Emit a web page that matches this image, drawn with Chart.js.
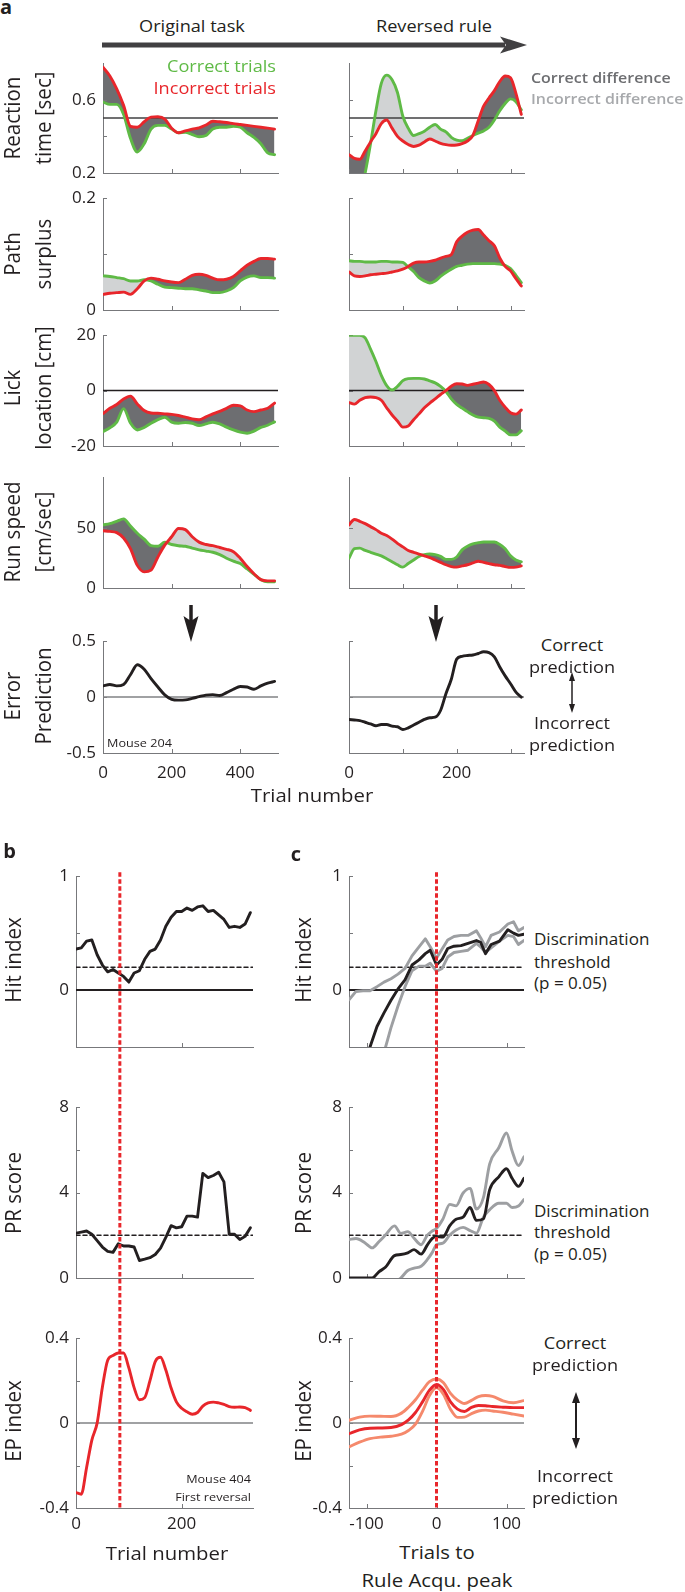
<!DOCTYPE html>
<html><head><meta charset="utf-8">
<script src="https://cdn.jsdelivr.net/npm/chart.js@4.4.1/dist/chart.umd.min.js"></script>
<style>
html,body{margin:0;padding:0;background:#fff}
body{width:685px;height:1592px;position:relative;overflow:hidden;color:#231f20;font-family:'Open Sans',sans-serif}
canvas{position:absolute}
.t{position:absolute;white-space:nowrap;line-height:1;font-family:'Open Sans',sans-serif}
#deco{position:absolute;left:0;top:0;z-index:3}
</style></head><body>
<svg id="deco" width="685" height="1592">
  <line x1="102" y1="45" x2="505" y2="45" stroke="#414042" stroke-width="5"/>
  <polygon points="500,36.5 527,45 500,53.5 506,45" fill="#414042"/>
  <line x1="191" y1="605" x2="191" y2="626" stroke="#231f20" stroke-width="3.5"/>
  <polygon points="183.5,616 191,642 198.5,616 191,621" fill="#231f20"/>
  <line x1="436" y1="605" x2="436" y2="626" stroke="#231f20" stroke-width="3.5"/>
  <polygon points="428.5,616 436,642 443.5,616 436,621" fill="#231f20"/>
  <line x1="572" y1="678" x2="572" y2="707" stroke="#231f20" stroke-width="1.5"/>
  <polygon points="569,681 572,672 575,681" fill="#231f20"/>
  <polygon points="569,704 572,713 575,704" fill="#231f20"/>
  <line x1="576" y1="1400" x2="576" y2="1441" stroke="#231f20" stroke-width="2"/>
  <polygon points="572,1403 576,1392 580,1403" fill="#231f20"/>
  <polygon points="572,1438 576,1449 580,1438" fill="#231f20"/>
</svg>
<script>
// ---------------- DATA ----------------
// Panel a, original task (trial number)
const trialsOrig = [0,20,40,60,80,100,120,140,160,180,200,220,240,260,280,300,320,340,360,380,400,420,440,460,480,500];
const rtCorrectOrig   = [0.588,0.575,0.575,0.52,0.39,0.315,0.36,0.44,0.46,0.46,0.44,0.42,0.422,0.41,0.398,0.405,0.44,0.45,0.45,0.455,0.45,0.42,0.395,0.36,0.31,0.30];
const rtIncorrectOrig = [0.778,0.73,0.66,0.57,0.455,0.45,0.48,0.505,0.507,0.495,0.445,0.42,0.43,0.44,0.447,0.462,0.483,0.48,0.476,0.47,0.465,0.46,0.455,0.45,0.445,0.44];
const pathCorrectOrig   = [0.061,0.060,0.058,0.056,0.052,0.052,0.054,0.052,0.046,0.041,0.040,0.039,0.038,0.038,0.036,0.034,0.031,0.031,0.034,0.040,0.052,0.059,0.061,0.058,0.058,0.057];
const pathIncorrectOrig = [0.028,0.030,0.031,0.032,0.028,0.038,0.052,0.057,0.055,0.052,0.050,0.049,0.055,0.062,0.064,0.062,0.057,0.054,0.055,0.060,0.070,0.080,0.087,0.092,0.092,0.091];
const lickCorrectOrig   = [-14.8,-13.4,-11.4,-6.5,-11.7,-14.2,-13.3,-11.8,-10.5,-9.6,-11.4,-11.8,-11.5,-11.8,-12.6,-12.0,-11.4,-12.0,-13.2,-14.2,-15.0,-15.4,-14.6,-13.3,-12.5,-11.3];
const lickIncorrectOrig = [-8.3,-6.4,-5.0,-3.0,-2.0,-4.8,-7.2,-8.1,-8.2,-8.4,-8.6,-9.0,-9.6,-10.2,-10.5,-9.5,-8.4,-7.5,-6.4,-5.3,-5.5,-7.0,-7.6,-7.0,-6.4,-4.5];
const speedCorrectOrig   = [53,54,56,58,52,46,41,35.5,35,38.5,36.5,35.5,35,33.5,32,31,30,28,25,22.5,20.5,16,11.5,7,5.3,5.3];
const speedIncorrectOrig = [48,47.5,46.5,42,33,19,13.5,15,26,36,43,50,49,43,38.5,36.5,35.5,34,32.5,30.5,25,18,12,7,6,6];
const epOrig = [0.10,0.113,0.10,0.113,0.20,0.29,0.25,0.165,0.09,0.02,-0.02,-0.027,-0.025,-0.012,0.004,0.018,0.022,0.014,0.04,0.07,0.095,0.09,0.07,0.10,0.125,0.14];

// Panel a, reversed rule
const trialsRev = [0,10,20,30,40,50,60,70,80,90,100,110,120,130,140,150,160,170,180,190,200,210,220,230,240,250,260,270,280,290,300,310,320];
const rtCorrectRev   = [0.0,0.0,0.07,0.2,0.36,0.54,0.69,0.735,0.71,0.64,0.51,0.445,0.405,0.415,0.428,0.45,0.465,0.44,0.425,0.395,0.38,0.376,0.39,0.405,0.418,0.43,0.45,0.49,0.54,0.58,0.605,0.59,0.545];
const rtIncorrectRev = [0.30,0.28,0.275,0.32,0.37,0.415,0.47,0.49,0.445,0.40,0.375,0.356,0.345,0.352,0.37,0.386,0.375,0.362,0.355,0.352,0.353,0.36,0.375,0.405,0.485,0.565,0.61,0.65,0.70,0.73,0.72,0.635,0.52];
const pathCorrectRev   = [0.088,0.087,0.087,0.086,0.086,0.086,0.087,0.087,0.086,0.086,0.085,0.077,0.069,0.058,0.052,0.048,0.052,0.060,0.067,0.073,0.078,0.080,0.082,0.083,0.083,0.083,0.083,0.083,0.082,0.080,0.074,0.062,0.049];
const pathIncorrectRev = [0.068,0.061,0.060,0.061,0.063,0.064,0.065,0.066,0.068,0.070,0.073,0.078,0.084,0.086,0.086,0.087,0.089,0.093,0.096,0.099,0.122,0.132,0.139,0.143,0.144,0.134,0.124,0.115,0.093,0.078,0.070,0.056,0.043];
const lickCorrectRev   = [20,20,20,19,15,10.5,5.5,1.8,0.2,1.5,3.6,4.3,4.4,4.4,4.2,3.5,2.8,1.5,-0.3,-3,-5,-6.3,-7.6,-8.8,-9.6,-9.8,-10,-11,-13.2,-14.6,-16,-16,-14.5];
const lickIncorrectRev = [-4.3,-4.9,-3.5,-2.5,-2.3,-2.5,-3.5,-6.2,-8.8,-11,-13.2,-12.8,-10.5,-8.4,-6.2,-4.5,-3,-1.4,0,1.6,2.5,2.4,1.9,2.3,2.7,3.1,2.2,0,-3.5,-6,-8,-8.5,-7];
const speedCorrectRev   = [25,33,33.5,31.5,30,28.5,27,24.5,22,19.5,17.5,20.5,23.5,26.5,28,28.5,28,26.5,24,24,26,32,35,37,38,38.6,38.6,38.6,36.5,33,27,23.5,22];
const speedIncorrectRev = [53,57.5,56,54,51.5,49,46,44,41,37.5,34.5,31.5,30,28.5,27,25.5,23.5,21.5,19.5,18,17.5,18.5,19.5,21,22.5,21.5,20.5,19.5,19,18,17.3,17.5,18.5];
const epRev = [-0.2,-0.205,-0.21,-0.225,-0.24,-0.256,-0.245,-0.245,-0.26,-0.265,-0.29,-0.275,-0.25,-0.225,-0.2,-0.185,-0.18,-0.12,0.03,0.16,0.34,0.365,0.372,0.377,0.39,0.405,0.398,0.36,0.27,0.19,0.12,0.045,0.0];

// Panel b (Mouse 404, first reversal)
const trialsB = [0,10,20,30,40,50,60,70,80,90,100,110,120,130,140,150,160,170,180,190,200,210,220,230,240,250,260,270,280,290,300,310,320,330];
const hitB = [0.36,0.37,0.43,0.44,0.31,0.22,0.16,0.18,0.15,0.12,0.07,0.15,0.17,0.27,0.34,0.36,0.44,0.56,0.64,0.69,0.69,0.72,0.70,0.73,0.74,0.69,0.70,0.66,0.62,0.55,0.56,0.55,0.58,0.68];
const prB  = [2.1,2.15,2.2,2.05,1.75,1.45,1.25,1.2,1.6,1.5,1.5,1.45,0.82,0.88,0.95,1.1,1.4,1.9,2.45,2.35,2.4,2.9,2.9,2.85,4.9,4.7,4.8,4.95,4.5,2.05,2.05,1.8,1.95,2.35];
const epB  = [-0.327,-0.335,-0.21,-0.08,0.0,0.17,0.296,0.318,0.33,0.33,0.26,0.167,0.11,0.12,0.2,0.29,0.31,0.25,0.165,0.1,0.07,0.053,0.042,0.05,0.08,0.095,0.099,0.095,0.088,0.078,0.075,0.076,0.073,0.06];
const ruleAcqTrialB = 83;

// Panel c (trials to rule-acquisition peak)
const hitCX = [-125,-115,-105,-95,-85,-75,-65,-55,-45,-35,-25,-16,-9,0,8,16,25,35,45,57,63,70,78,90,102,110,117,125];
const hitCUpper = [-0.085,-0.012,-0.006,-0.006,0.03,0.07,0.10,0.14,0.19,0.30,0.38,0.45,0.38,0.28,0.36,0.44,0.47,0.48,0.48,0.52,0.46,0.38,0.48,0.51,0.58,0.60,0.52,0.55];
const hitCMean  = [-1.04,-0.86,-0.68,-0.5,-0.32,-0.2,-0.09,0.01,0.09,0.22,0.265,0.32,0.35,0.22,0.27,0.365,0.385,0.39,0.41,0.435,0.42,0.32,0.40,0.43,0.53,0.50,0.48,0.49];
const hitCLower = [-1.6,-1.45,-1.25,-0.97,-0.76,-0.55,-0.33,-0.14,0.03,0.17,0.21,0.21,0.236,0.165,0.19,0.29,0.33,0.34,0.35,0.41,0.38,0.33,0.37,0.43,0.48,0.47,0.40,0.436];
const prCX = [-125,-115,-102,-92,-82,-73,-60,-51,-41,-32,-22,-13,-6,0,9,19,28,38,48,57,67,76,89,100,108,117,125];
const prCUpper = [1.8,1.85,1.64,1.41,1.71,2.01,2.44,2.09,2.17,1.86,1.56,2.01,2.2,2.32,2.75,3.45,3.38,3.98,4.2,3.23,3.76,5.35,6.1,6.79,5.95,5.27,5.68];
const prCMean  = [0,0,0,0,0.3,0.5,1.05,1.1,1.18,1.33,1.12,1.55,1.86,1.94,1.92,2.45,2.75,2.85,3.3,2.7,2.77,4.14,4.74,5.12,4.67,4.29,4.67];
const prCLower = [-1.2,-1.1,-0.95,-0.8,-0.65,-0.45,-0.2,0.0,0.35,0.46,0.55,0.87,1.2,1.56,1.63,2.01,2.25,2.37,2.22,2.1,2.85,3.2,3.5,3.5,3.3,3.37,3.68];
const epCX = [-125,-110,-95,-80,-65,-50,-40,-30,-20,-10,0,10,20,30,40,50,60,70,80,95,110,125];
const epCUpper = [0.013,0.028,0.033,0.032,0.031,0.047,0.075,0.11,0.155,0.195,0.208,0.19,0.14,0.108,0.092,0.107,0.125,0.13,0.126,0.105,0.096,0.106];
const epCMean  = [-0.05,-0.032,-0.024,-0.023,-0.021,-0.007,0.015,0.05,0.1,0.155,0.182,0.158,0.1,0.066,0.055,0.074,0.083,0.082,0.078,0.075,0.073,0.073];
const epCLower = [-0.112,-0.09,-0.073,-0.066,-0.062,-0.052,-0.035,-0.005,0.055,0.13,0.167,0.135,0.065,0.027,0.028,0.045,0.057,0.061,0.057,0.051,0.042,0.033];
const ruleAcqPeakC = 0;

// Reference levels
const rtReference = 0.5, lickReference = 0, epReference = 0, hitThreshold = 0.2, prThreshold = 2, zeroLevel = 0;

// Axis ticks and tick labels
const origTicks = [0,200,400], origTickLabels = [0,200,400];
const revTicks = [0,100,200,300], revTickLabels = [0,200];
const rtTicks = [0.2,0.4,0.6], rtTickLabels = [0.2,0.6];
const pathTicks = [0,0.1,0.2], pathTickLabels = [0,0.2];
const lickTicks = [-20,0,20], lickTickLabels = [-20,0,20];
const speedTicks = [0,50], speedTickLabels = [0,50];
const epTicks = [-0.5,0,0.5], epTickLabels = [-0.5,0,0.5];
const bTicks = [0,200], bTickLabels = [0,200];
const cTicks = [-100,0,100], cTickLabels = [-100,0,100];
const hitTicks = [-0.5,0,0.5,1], hitTickLabels = [0,1];
const prTicks = [0,2,4,6,8], prTickLabels = [0,4,8];
const epiTicks = [-0.4,-0.2,0,0.2,0.4], epiTickLabels = [-0.4,0,0.4];

// ---------------- STYLE ----------------
const GREEN='#5fba46', RED='#e8262b', DARKF='#6d6e71', LIGHTF='#d1d3d4', BLACK='#231f20',
      GRAYL='#9d9fa2', SALMON='#f5896c', AXC='#77787b', TXT='#231f20';
const TICKFONT = "'Open Sans', sans-serif";
const PT = 12, PR = 10, LW = 2.9;

const pts = (xs, ys) => xs.map((x, i) => ({x, y: ys[i]}));
const hline = (xs, y, color, width, dash, order) => ({data:[{x:xs.min,y},{x:xs.max,y}], borderColor:color, borderWidth:width, borderDash:dash||[], order, fill:false});

function axisOpt(spec, dir, size, pad) {
  return {
    type:'linear', min:spec.min, max:spec.max,
    afterBuildTicks: s => { s.ticks = spec.ticks.map(v => ({value:v})); },
    afterFit: s => { if (dir === 'x') s.height = size; else s.width = size; },
    grid:{display:false, drawTicks:false},
    border:{display:true, color:AXC, width:1},
    ticks:{autoSkip:false, maxRotation:0, minRotation:0, padding:pad, color:TXT,
      font:{family:TICKFONT, size:17},
      callback: v => (spec.labels.includes(v) ? String(v) : '')}
  };
}

const inTicks = {id:'inTicks', beforeDatasetsDraw(chart){
  const {ctx, chartArea:a} = chart, x = chart.scales.x, y = chart.scales.y;
  ctx.save(); ctx.strokeStyle = AXC; ctx.lineWidth = 1; ctx.beginPath();
  x.ticks.forEach(t => { const p = Math.round(x.getPixelForValue(t.value)) + 0.5; ctx.moveTo(p, a.bottom); ctx.lineTo(p, a.bottom - 4); });
  y.ticks.forEach(t => { const p = Math.round(y.getPixelForValue(t.value)) + 0.5; ctx.moveTo(a.left, p); ctx.lineTo(a.left + 4, p); });
  ctx.stroke(); ctx.restore();
}};
const vlinePlugin = {id:'vline', afterDatasetsDraw(chart, args, o){
  if (!o || o.value === undefined) return;
  const {ctx, chartArea:a} = chart;
  const px = chart.scales.x.getPixelForValue(o.value);
  const y0 = o.fromTop ? 0 : a.top - 4, y1 = o.toBottom ? chart.height : a.bottom + 2;
  ctx.save(); ctx.strokeStyle = RED; ctx.lineWidth = 3; ctx.setLineDash([4.5, 2.5]);
  ctx.beginPath(); ctx.moveTo(px, y0); ctx.lineTo(px, y1); ctx.stroke(); ctx.restore();
}};

function mk(box, xs, ys, datasets, vline, xpad) {
  const w = box.yw + (box.r - box.l) + PR, h = PT + (box.b - box.t) + box.xh;
  const cv = document.createElement('canvas');
  cv.width = w; cv.height = h;
  Object.assign(cv.style, {left:(box.l - box.yw)+'px', top:(box.t - PT)+'px', width:w+'px', height:h+'px'});
  document.body.appendChild(cv);
  return new Chart(cv.getContext('2d'), {
    type:'line', data:{datasets},
    options:{
      responsive:false, maintainAspectRatio:false, animation:false, devicePixelRatio:1, events:[],
      layout:{padding:{left:0, top:PT, right:PR, bottom:0}},
      elements:{point:{radius:0, hitRadius:0}, line:{borderCapStyle:'round', borderJoinStyle:'round'}},
      plugins:{legend:{display:false}, tooltip:{enabled:false}, filler:{drawTime:'beforeDatasetsDraw'}, vline: vline || {}},
      scales:{x: axisOpt(xs, 'x', box.xh, xpad || 10), y: axisOpt(ys, 'y', box.yw, 7)}
    },
    plugins:[inTicks, vlinePlugin]
  });
}

function pair(box, xs, ys, xv, green, red, ref, refColor, invert) {
  const ds = [];
  if (ref !== null) ds.push(hline(xs, ref, refColor, 1.5, null, 5));
  const gi = ds.length;
  ds.push({data:pts(xv, green), borderColor:GREEN, borderWidth:LW, order:1, fill:false, cubicInterpolationMode:'monotone'});
  ds.push({data:pts(xv, red), borderColor:RED, borderWidth:LW, order:0, cubicInterpolationMode:'monotone',
    fill:{target:gi, above: invert ? LIGHTF : DARKF, below: invert ? DARKF : LIGHTF}});
  return mk(box, xs, ys, ds);
}

// ---------------- LAYOUT ----------------
const L = {l:103, r:278, yw:103}, R = {l:349, r:524, yw:40};
const rowsA = [{t:58,b:173},{t:193,b:310},{t:330,b:446},{t:472,b:588},{t:636,b:753}];
const box = (col, row, xh) => ({l:col.l, r:col.r, yw:col.yw, t:row.t, b:row.b, xh});

const xO  = {min:0, max:510, ticks:origTicks, labels:[]};
const xO5 = {min:0, max:510, ticks:origTicks, labels:origTickLabels};
const xR  = {min:0, max:325, ticks:revTicks, labels:[]};
const xR5 = {min:0, max:325, ticks:revTicks, labels:revTickLabels};
const yRT = lab => ({min:0.2, max:0.8, ticks:rtTicks, labels:lab ? rtTickLabels : []});
const yPS = lab => ({min:0, max:0.2, ticks:pathTicks, labels:lab ? pathTickLabels : []});
const yLK = lab => ({min:-20, max:20, ticks:lickTicks, labels:lab ? lickTickLabels : []});
const ySP = lab => ({min:0, max:93, ticks:speedTicks, labels:lab ? speedTickLabels : []});
const yEP = lab => ({min:-0.5, max:0.5, ticks:epTicks, labels:lab ? epTickLabels : []});

pair(box(L,rowsA[0],18), xO, yRT(1), trialsOrig, rtCorrectOrig, rtIncorrectOrig, rtReference, '#414042', false);
pair(box(R,rowsA[0],18), xR, yRT(0), trialsRev, rtCorrectRev, rtIncorrectRev, rtReference, '#414042', false);
pair(box(L,rowsA[1],18), xO, yPS(1), trialsOrig, pathCorrectOrig, pathIncorrectOrig, null, null, false);
pair(box(R,rowsA[1],18), xR, yPS(0), trialsRev, pathCorrectRev, pathIncorrectRev, null, null, false);
pair(box(L,rowsA[2],18), xO, yLK(1), trialsOrig, lickCorrectOrig, lickIncorrectOrig, lickReference, BLACK, false);
pair(box(R,rowsA[2],18), xR, yLK(0), trialsRev, lickCorrectRev, lickIncorrectRev, lickReference, BLACK, false);
pair(box(L,rowsA[3],18), xO, ySP(1), trialsOrig, speedCorrectOrig, speedIncorrectOrig, null, null, true);
pair(box(R,rowsA[3],18), xR, ySP(0), trialsRev, speedCorrectRev, speedIncorrectRev, null, null, true);
mk(box(L,rowsA[4],32), xO5, yEP(1), [hline(xO5, epReference, '#808285', 1.5, null, 5),
  {data:pts(trialsOrig, epOrig), borderColor:BLACK, borderWidth:LW, order:0, fill:false, cubicInterpolationMode:'monotone'}]);
mk(box(R,rowsA[4],32), xR5, yEP(0), [hline(xR5, epReference, '#808285', 1.5, null, 5),
  {data:pts(trialsRev, epRev), borderColor:BLACK, borderWidth:LW, order:0, fill:false, cubicInterpolationMode:'monotone'}]);

// Panels b / c
const B = {l:76, r:253, yw:76}, C = {l:349, r:524, yw:60};
const rowsB = [{t:871,b:1047,xh:43},{t:1102,b:1278,xh:43},{t:1333,b:1508,xh:30}];
const bx = (col, i) => ({l:col.l, r:col.r, yw:col.yw, t:rowsB[i].t, b:rowsB[i].b, xh:rowsB[i].xh});
const xB  = {min:0, max:335, ticks:bTicks, labels:[]};
const xB3 = {min:0, max:335, ticks:bTicks, labels:bTickLabels};
const xC  = {min:-125, max:125, ticks:cTicks, labels:[]};
const xC3 = {min:-125, max:125, ticks:cTicks, labels:cTickLabels};
const yHit = {min:-0.5, max:1, ticks:hitTicks, labels:hitTickLabels};
const yPR  = {min:0, max:8, ticks:prTicks, labels:prTickLabels};
const yEPI = {min:-0.4, max:0.4, ticks:epiTicks, labels:epiTickLabels};
const vB = (a, b) => ({value:ruleAcqTrialB, fromTop:a, toBottom:b});
const vC = (a, b) => ({value:ruleAcqPeakC, fromTop:a, toBottom:b});
const ln = (xv, yv, color, order, w, smooth) => ({data:pts(xv, yv), borderColor:color, borderWidth:w||LW, order, fill:false, cubicInterpolationMode: smooth ? 'monotone' : 'default', tension:0});

mk(bx(B,0), xB, yHit, [hline(xB, hitThreshold, BLACK, 1.5, [4,3], 5), hline(xB, zeroLevel, BLACK, 2, null, 6), ln(trialsB, hitB, BLACK, 0)], vB(false, true));
mk(bx(B,1), xB, yPR, [hline(xB, prThreshold, BLACK, 1.5, [4,3], 5), ln(trialsB, prB, BLACK, 0)], vB(true, true));
mk(bx(B,2), xB3, yEPI, [hline(xB3, zeroLevel, '#808285', 1.5, null, 5), ln(trialsB, epB, RED, 0, LW, true)], vB(true, false), 6);

mk(bx(C,0), xC, yHit, [hline(xC, hitThreshold, BLACK, 1.5, [4,3], 5), hline(xC, zeroLevel, BLACK, 2, null, 6),
  ln(hitCX, hitCUpper, GRAYL, 2), ln(hitCX, hitCLower, GRAYL, 3), ln(hitCX, hitCMean, BLACK, 0)], vC(false, true));
mk(bx(C,1), xC, yPR, [hline(xC, prThreshold, BLACK, 1.5, [4,3], 5),
  ln(prCX, prCUpper, GRAYL, 2, LW, true), ln(prCX, prCLower, GRAYL, 3, LW, true), ln(prCX, prCMean, BLACK, 0, LW, true)], vC(true, true));
mk(bx(C,2), xC3, yEPI, [hline(xC3, zeroLevel, '#808285', 1.5, null, 5),
  ln(epCX, epCUpper, SALMON, 2, LW, true), ln(epCX, epCLower, SALMON, 3, LW, true), ln(epCX, epCMean, RED, 0, LW, true)], vC(true, false), 6);

// ---------------- TEXT ----------------
const S = 1.1;
function T(str, x, y, o) {
  o = o || {};
  const d = document.createElement('div');
  d.className = 't'; d.textContent = str;
  d.style.left = x + 'px'; d.style.top = y + 'px';
  d.style.fontSize = (o.s || 16.5) + 'px';
  d.style.color = o.c || TXT;
  if (o.w) d.style.fontWeight = o.w;
  if (o.rot) {
    d.style.transformOrigin = 'center center';
    d.style.transform = 'translate(-50%,-50%) scale(' + S + ',1) rotate(-90deg)';
  } else {
    const a = o.a || 'c';
    const tx = a === 'c' ? '-50%' : (a === 'r' ? '-100%' : '0');
    d.style.transformOrigin = a === 'c' ? 'center center' : (a === 'r' ? 'right center' : 'left center');
    d.style.transform = 'translate(' + tx + ',-50%) scaleX(' + (o.sx || S) + ')';
  }
  document.body.appendChild(d);
}
T('a', 6, 7, {s:20, w:700, sx:1});
T('Original task', 192, 25.5);
T('Reversed rule', 434, 25.5);
T('Correct trials', 276, 66, {a:'r', c:GREEN});
T('Incorrect trials', 276, 87.5, {a:'r', c:RED});
T('Correct difference', 531, 78, {a:'l', c:'#6d6e71', s:14.5, w:600});
T('Incorrect difference', 531, 99, {a:'l', c:'#a7a9ac', s:14.5, w:600});
const RS = 20.5;
[['Reaction','time [sec]',118],['Path','surplus',254],['Lick','location [cm]',388],['Run speed','[cm/sec]',532],['Error','Prediction',696]]
  .forEach(([l1,l2,y]) => { T(l1, 11, y, {rot:1, s:RS}); T(l2, 42, y, {rot:1, s:RS}); });
T('Trial number', 312, 795, {s:18.5});
T('Mouse 204', 107, 743, {a:'l', s:11.5});
T('Correct', 572, 645); T('prediction', 572, 667); T('Incorrect', 572, 723); T('prediction', 572, 745);

T('b', 9.5, 851, {s:20, w:700, sx:1});
T('c', 296, 854, {s:20, w:700, sx:1});
[['Hit index',960],['PR score',1193],['EP index',1421]].forEach(([s,y]) => { T(s, 12, y, {rot:1, s:RS}); T(s, 302, y, {rot:1, s:RS}); });
T('Discrimination', 534, 940, {a:'l', s:15.5}); T('threshold', 534, 963, {a:'l', s:15.5}); T('(p = 0.05)', 534, 984, {a:'l', s:15.5});
T('Discrimination', 534, 1212, {a:'l', s:15.5}); T('threshold', 534, 1233, {a:'l', s:15.5}); T('(p = 0.05)', 534, 1255, {a:'l', s:15.5});
T('Mouse 404', 251, 1479, {a:'r', s:11.5}); T('First reversal', 251, 1497, {a:'r', s:11.5});
T('Correct', 574.5, 1343); T('prediction', 574.5, 1365); T('Incorrect', 574.5, 1476); T('prediction', 574.5, 1498);
T('Trial number', 167, 1553, {s:18.5});
T('Trials to', 437, 1552, {s:18.5});
T('Rule Acqu. peak', 437, 1580, {s:18.5});
</script>
</body></html>
